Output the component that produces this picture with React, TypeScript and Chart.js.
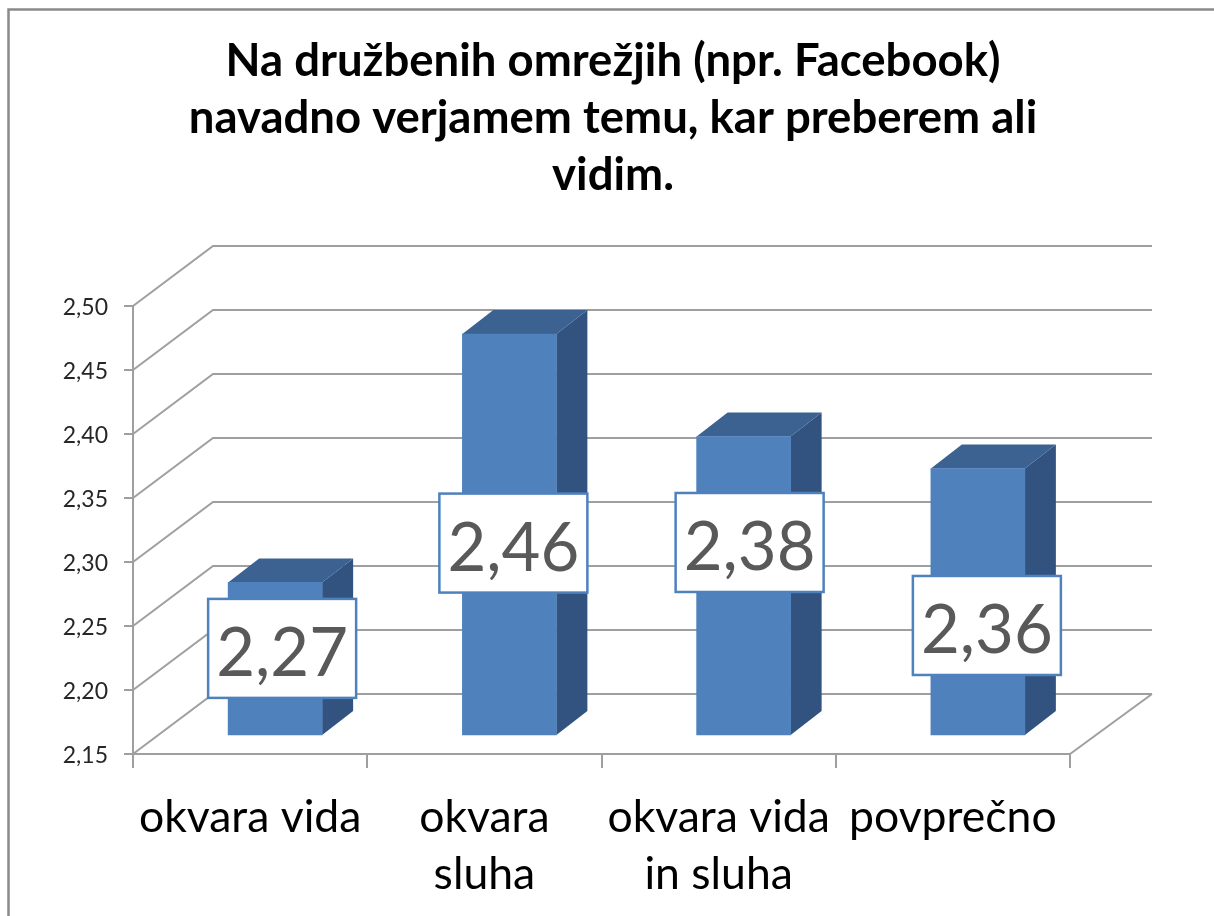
import React, { useEffect, useRef } from "react";
import { Chart, registerables } from "chart.js";

Chart.register(...registerables);

const titleLines = [
  "Na družbenih omrežjih (npr. Facebook)",
  "navadno verjamem temu, kar preberem ali",
  "vidim.",
];
const categories = [["okvara vida"], ["okvara", "sluha"], ["okvara vida", "in sluha"], ["povprečno"]];
const seriesValues = [2.27, 2.464, 2.384, 2.359];
const axisMin = 2.15;
const axisMax = 2.5;
const axisStep = 0.05;

const FONT = "Lato, 'Open Sans', sans-serif";
const GRID = "#9f9f9f";
const DEPTH_X = 80;
const DEPTH_Y = 60;
const BAR_SHIFT_X = 25;
const BAR_SHIFT_Y = 18;
const BAR_DEPTH_X = 31;
const BAR_DEPTH_Y = 24;
const LABEL_NUDGE = [
  { dx: 7, dy: 66 },
  { dx: 4, dy: 209 },
  { dx: 6, dy: 106 },
  { dx: 9, dy: 157 },
];

const fmt = (v: number) => v.toFixed(2).replace(".", ",");

const wall3d = {
  id: "wall3d",
  afterLayout(chart: any) {
    // centre the title on the whole picture rather than on the plot
    chart.titleBlock.left = 12;
    chart.titleBlock.right = chart.width;
  },
  beforeDraw(chart: any) {
    const { ctx, chartArea, scales } = chart;
    ctx.save();
    ctx.fillStyle = "#ffffff";
    ctx.fillRect(0, 0, chart.width, chart.height);
    ctx.strokeStyle = "#8a8a8a";
    ctx.lineWidth = 2.5;
    ctx.beginPath();
    ctx.moveTo(8.5, chart.height);
    ctx.lineTo(8.5, 9.5);
    ctx.lineTo(chart.width, 9.5);
    ctx.stroke();
    ctx.strokeStyle = GRID;
    ctx.lineWidth = 2;
    const { left, right } = chartArea;
    scales.y.ticks.forEach((t: any) => {
      const y = scales.y.getPixelForValue(t.value);
      ctx.beginPath();
      ctx.moveTo(left, y);
      ctx.lineTo(left + DEPTH_X, y - DEPTH_Y);
      ctx.lineTo(right + DEPTH_X + 2, y - DEPTH_Y);
      ctx.stroke();
    });
    const y0 = scales.y.getPixelForValue(axisMin);
    ctx.beginPath();
    ctx.moveTo(right, y0);
    ctx.lineTo(right + DEPTH_X + 2, y0 - DEPTH_Y);
    ctx.stroke();
    ctx.restore();
  },
  beforeDatasetsDraw(chart: any) {
    const { ctx } = chart;
    const meta = chart.getDatasetMeta(0);
    ctx.save();
    ctx.translate(BAR_SHIFT_X, -BAR_SHIFT_Y);
    meta.data.forEach((el: any) => {
      const { x, y, base, width } = el.getProps(["x", "y", "base", "width"], true);
      const r = x + width / 2;
      const l = x - width / 2;
      ctx.fillStyle = "#325380";
      ctx.beginPath();
      ctx.moveTo(r, y);
      ctx.lineTo(r + BAR_DEPTH_X, y - BAR_DEPTH_Y);
      ctx.lineTo(r + BAR_DEPTH_X, base - BAR_DEPTH_Y);
      ctx.lineTo(r, base);
      ctx.closePath();
      ctx.fill();
      ctx.fillStyle = "#3b6291";
      ctx.beginPath();
      ctx.moveTo(l, y);
      ctx.lineTo(l + BAR_DEPTH_X, y - BAR_DEPTH_Y);
      ctx.lineTo(r + BAR_DEPTH_X, y - BAR_DEPTH_Y);
      ctx.lineTo(r, y);
      ctx.closePath();
      ctx.fill();
    });
    // the front faces are drawn by the library inside this shifted frame
  },
  afterDatasetsDraw(chart: any) {
    const { ctx } = chart;
    ctx.restore();
    const meta = chart.getDatasetMeta(0);
    ctx.save();
    meta.data.forEach((el: any, i: number) => {
      const { x, y } = el.getProps(["x", "y"], true);
      const cx = x + BAR_SHIFT_X + LABEL_NUDGE[i].dx;
      const cy = y - BAR_SHIFT_Y + LABEL_NUDGE[i].dy;
      ctx.fillStyle = "#ffffff";
      ctx.strokeStyle = "#4f81bd";
      ctx.lineWidth = 2.5;
      ctx.fillRect(cx - 74, cy - 49.5, 148, 99);
      ctx.strokeRect(cx - 74, cy - 49.5, 148, 99);
      ctx.fillStyle = "#595959";
      ctx.font = `67px ${FONT}`;
      ctx.textAlign = "center";
      ctx.textBaseline = "middle";
      ctx.fillText(fmt(seriesValues[i]), cx, cy + 6);
    });
    ctx.restore();
  },
};

export default function App() {
  const ref = useRef<HTMLCanvasElement>(null);
  useEffect(() => {
    document.body.style.margin = "0";
    const chart = new Chart(ref.current as HTMLCanvasElement, {
      type: "bar",
      data: {
        labels: categories as any,
        datasets: [
          {
            data: seriesValues,
            base: axisMin,
            backgroundColor: "#4f81bd",
            barThickness: 94,
            clip: false as any,
          } as any,
        ],
      },
      plugins: [wall3d],
      options: {
        animation: false,
        responsive: false,
        layout: { padding: { left: 10, right: 144, top: 0, bottom: 0 } },
        plugins: {
          legend: { display: false },
          tooltip: { enabled: false },
          title: {
            display: true,
            text: titleLines,
            color: "#000000",
            font: { family: FONT, size: 45.5, weight: "bold", lineHeight: 57 / 45.5 },
            padding: { top: 33, bottom: 102 },
          },
        },
        scales: {
          x: {
            afterFit: (s: any) => {
              s.height = 162;
            },
            grid: { drawOnChartArea: false, tickLength: 14, color: GRID, lineWidth: 2 },
            border: { color: GRID, width: 2 },
            ticks: {
              color: "#000000",
              font: { family: FONT, size: 44.5, lineHeight: 57 / 44.5 },
              padding: 21,
              maxRotation: 0,
              minRotation: 0,
              autoSkip: false,
            },
          },
          y: {
            min: axisMin,
            max: axisMax,
            afterFit: (s: any) => {
              s.width = 123;
            },
            grid: { drawOnChartArea: false, tickLength: 9, color: GRID, lineWidth: 2 },
            border: { color: GRID, width: 2 },
            ticks: {
              stepSize: axisStep,
              color: "#262626",
              font: { family: FONT, size: 23 },
              padding: 16,
              labelOffset: 2,
              callback: (v: any) => fmt(Number(v)),
            },
          },
        },
      },
    });
    return () => chart.destroy();
  }, []);
  return <canvas ref={ref} width={1214} height={916} style={{ display: "block" }} />;
}
